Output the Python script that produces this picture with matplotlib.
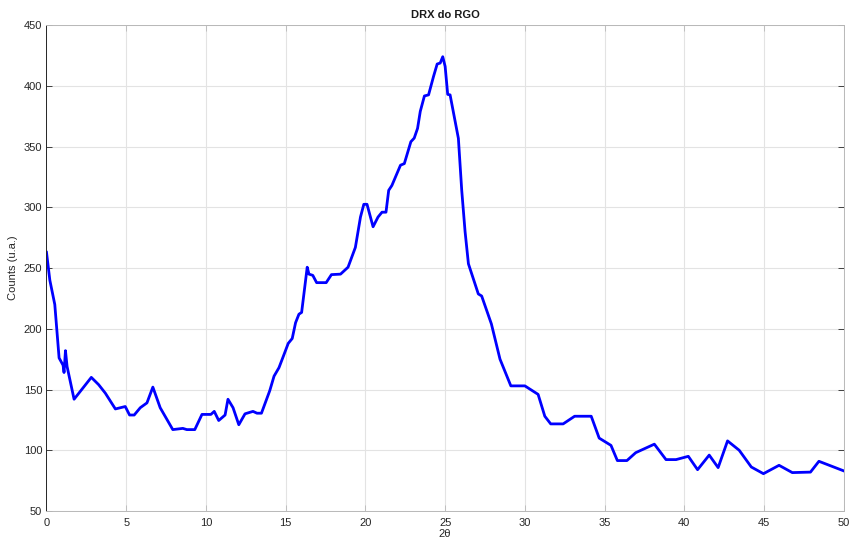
import matplotlib
matplotlib.use("Agg")
import matplotlib.pyplot as plt

two_theta = [0.0, 0.21, 0.52, 0.79, 1.04, 1.10, 1.19, 1.29, 1.73, 2.81,
             3.27, 3.69, 4.32, 4.94, 5.21, 5.50, 5.88, 6.30, 6.67, 7.13,
             7.92, 8.55, 8.80, 9.30, 9.75, 10.31, 10.52, 10.80, 11.20, 11.38,
             11.70, 12.06, 12.45, 12.95, 13.20, 13.48, 14.00, 14.27, 14.58, 14.90,
             15.16, 15.41, 15.62, 15.83, 16.00, 16.35, 16.46, 16.70, 16.94, 17.54,
             17.87, 18.44, 18.91, 19.37, 19.69, 19.90, 20.10, 20.48, 20.79, 21.04,
             21.29, 21.46, 21.66, 22.20, 22.44, 22.85, 23.06, 23.27, 23.44, 23.70,
             23.96, 24.27, 24.50, 24.69, 24.85, 25.00, 25.16, 25.31, 25.83, 26.04,
             26.25, 26.46, 27.08, 27.29, 27.90, 28.44, 29.12, 30.00, 30.83, 31.25,
             31.62, 32.40, 33.12, 34.16, 34.66, 35.40, 35.80, 36.40, 36.95, 38.12,
             38.85, 39.48, 40.25, 40.83, 41.56, 42.12, 42.71, 43.44, 44.20, 44.96,
             45.94, 46.77, 47.91, 48.44, 50.00]

counts = [263, 240, 220, 176, 170, 164, 182, 169, 142, 160,
          154, 147, 134, 136, 129, 129, 135, 139, 152, 135,
          117, 118, 117, 117, 129.5, 129.5, 132, 124.5, 129, 142,
          135, 121, 130, 132, 130.5, 130.5, 149, 161, 168, 179,
          188, 192, 205, 212, 213.5, 250.7, 245, 244, 238, 238,
          244.6, 245, 250.7, 267, 292, 302.5, 302.5, 284, 292, 296,
          296, 314, 318, 334.7, 336, 354, 357, 365, 379, 391.7,
          392.6, 407.7, 418, 418.8, 424, 416, 393, 392.6, 356.8, 314,
          280, 253.5, 228.7, 227, 204, 175, 153, 153, 146, 128,
          121.7, 121.7, 128, 128, 110, 104, 91.5, 91.5, 98, 105,
          92.3, 92.3, 95, 84, 96, 85.7, 107.7, 100, 86.2, 80.7,
          87.6, 81.6, 82, 90.9, 83]

xticks = list(range(0, 51, 5))
yticks = list(range(50, 451, 50))

plt.rcParams['font.family'] = ['Liberation Sans', 'DejaVu Sans']

dark = (0.15, 0.15, 0.15)
light = (0.72, 0.72, 0.72)

fig = plt.figure(figsize=(8.5, 5.41), dpi=100)
ax = fig.add_axes([0.0547, 0.0555, 0.938, 0.898])
ax.plot(two_theta, counts, color=(0, 0, 1), linewidth=2.0)

ax.set_xlim(0, 50)
ax.set_ylim(50, 450)
ax.set_xticks(xticks)
ax.set_yticks(yticks)
ax.grid(True, color=(0.89, 0.89, 0.89), linewidth=0.8)
ax.set_axisbelow(True)
ax.tick_params(axis='both', direction='in', length=4, width=0.6, labelsize=8,
               labelcolor=dark, top=True, right=True)
ax.tick_params(axis='x', color=light, pad=5)
ax.tick_params(axis='y', color=dark, pad=3)
ax.spines['left'].set_color(dark)
for side in ('top', 'right', 'bottom'):
    ax.spines[side].set_color(light)
for s in ax.spines.values():
    s.set_linewidth(0.7)

ax.set_title('DRX do RGO', fontsize=8, fontweight='bold', color=(0.1, 0.1, 0.1), pad=5)
ax.set_ylabel('Counts (u.a.)', fontsize=8, color=dark, labelpad=4)
ax.set_xlabel('2θ', fontsize=8, color=dark, labelpad=1)

fig.savefig('out.png', dpi=100)
